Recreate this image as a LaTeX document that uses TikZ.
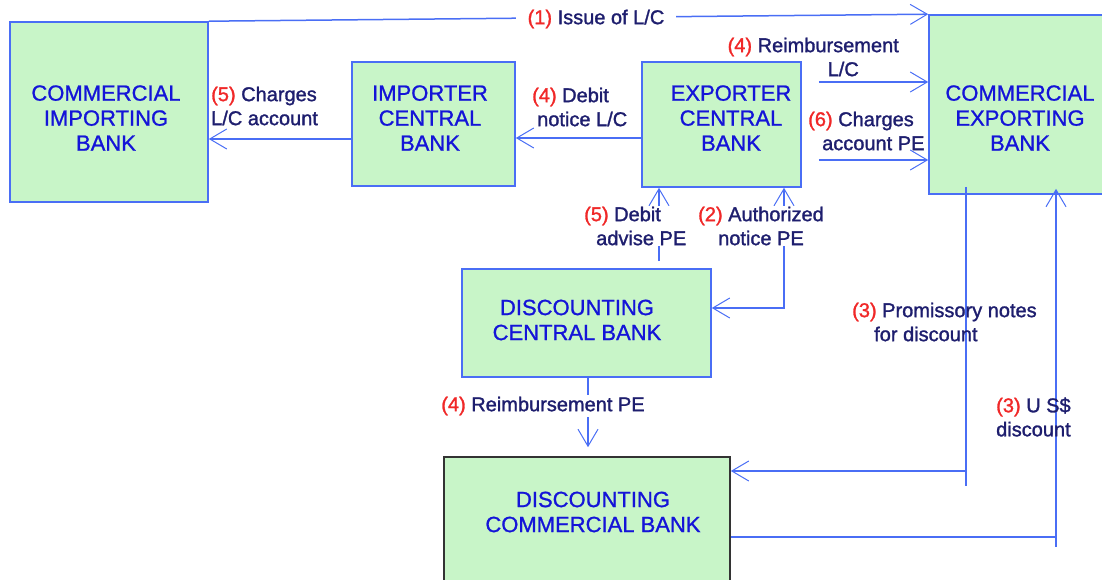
\documentclass[tikz,border=0pt]{standalone}
\usepackage{fontspec}
\setmainfont{Liberation Sans}
\newfontfamily\banksans[FakeBold=1]{Liberation Sans}
\newfontfamily\flowsans[FakeBold=1.4]{Liberation Sans}
\usetikzlibrary{arrows.meta,calc}

\definecolor{boxfill}{HTML}{C8F5C8}
\definecolor{edgeblue}{HTML}{4A6EF5}
\definecolor{txtblue}{HTML}{1414D8}
\definecolor{navy}{HTML}{1E1E6E}
\definecolor{numred}{HTML}{F02828}
\definecolor{darkedge}{HTML}{333333}

\tikzset{
  bank/.style={draw=edgeblue, line width=1.6pt, fill=boxfill, inner sep=0pt},
  banktext/.style={text=txtblue, font=\banksans\fontsize{22}{25}\selectfont, align=center, inner sep=0pt},
  flow/.style={draw=edgeblue, line width=1.5pt},
  tip/.style={-{Straight Barb[length=17pt,width=20pt,line width=1pt]}},
  bothtips/.style={{Straight Barb[length=17pt,width=20pt,line width=1pt]}-{Straight Barb[length=17pt,width=20pt,line width=1pt]}},
  lbl/.style={text=navy, font=\flowsans\fontsize{20}{24}\selectfont, inner sep=1pt},
  gap/.style={fill=white},
}
\newcommand{\stepno}[1]{\textcolor{numred}{#1}}

\begin{document}
\begin{tikzpicture}[x=1pt,y=-1pt]
  \useasboundingbox (0,0) rectangle (1102,580);
  \clip (0,0) rectangle (1102,580);

  % banks
  \node[bank, minimum width=198pt, minimum height=180pt] (cib) at (109,112) {};
  \node[bank, minimum width=163pt, minimum height=124pt] (icb) at (433.5,124) {};
  \node[bank, minimum width=159pt, minimum height=125pt] (ecb) at (721.5,124.5) {};
  \node[bank, minimum width=181pt, minimum height=179pt] (ceb) at (1019.5,104.5) {};
  \node[bank, minimum width=249pt, minimum height=108pt] (dcb) at (586.5,323) {};
  \node[bank, draw=darkedge, minimum width=286pt, minimum height=143pt] (dcom) at (587,528.5) {};

  \node[banktext] (cibt) at (106,118) {COMMERCIAL\\IMPORTING\\BANK};
  \node[banktext] (icbt) at (430,118) {IMPORTER\\CENTRAL\\BANK};
  \node[banktext] (ecbt) at (731,118) {EXPORTER\\CENTRAL\\BANK};
  \node[banktext] (cebt) at (1020,118) {COMMERCIAL\\EXPORTING\\BANK};
  \node[banktext] (dcbt) at (577,320) {DISCOUNTING\\CENTRAL BANK};
  \node[banktext] (dcomt) at (593,512) {DISCOUNTING\\COMMERCIAL BANK};

  % flows between banks
  \draw[flow, tip] (cib.north east) -- (ceb.north west);
  \draw[flow, tip] (icb.west |- 0,139) -- (cib.east |- 0,139);
  \draw[flow, tip] (ecb.west |- 0,138) -- (icb.east |- 0,138);
  \draw[flow, tip] ($(ecb.east |- 0,82)+(17,0)$) -- (ceb.west |- 0,82);
  \draw[flow, tip] ($(ecb.east |- 0,160)+(17,0)$) -- (ceb.west |- 0,160);
  \draw[flow, tip, shorten <=7pt] (dcb.north -| 659,0) -- (ecb.south -| 659,0);
  \draw[flow, bothtips] (ecb.south -| 784,0) |- (dcb.east |- 0,308);
  \draw[flow, tip, shorten >=9pt] (dcb.south -| 588,0) -- (dcom.north -| 588,0);

  \coordinate (pnturn) at (966,471);
  \coordinate (pnend) at (966,486);
  \draw[flow, tip] ($(ceb.south -| 966,0)+(0,-8)$) |- (dcom.east |- pnturn);
  \draw[flow] (pnturn) -- (pnend);

  \coordinate (usturn) at (1056,537);
  \coordinate (usend) at (1056,547);
  \draw[flow, tip, shorten >=-6pt] (dcom.east |- usturn) -| (ceb.south -| usturn);
  \draw[flow] (usturn) -- (usend);

  % flow labels
  \node[lbl, gap, inner xsep=12pt, inner ysep=0pt] (l1) at (596,19) {\stepno{(1)} Issue of L/C};
  \node[lbl, align=left, anchor=west] (l5a) at (210,106) {\stepno{(5)} Charges\\L/C account};
  \node[lbl, align=left, anchor=west] (l4a) at (531,107) {\stepno{(4)} Debit\\\hspace*{5pt}notice L/C};
  \node[lbl, align=right, anchor=east] (l4b) at (900,57) {\stepno{(4)} Reimbursement\\L/C\hspace*{40pt}};
  \node[lbl, align=left, anchor=west] (l6) at (807,131) {\stepno{(6)} Charges\\\hspace*{14pt}account PE};
  \node[lbl, gap, align=left, anchor=west] (l5b) at (583,226) {\stepno{(5)} Debit\\\hspace*{12pt}advise PE};
  \node[lbl, gap, align=center] (l2) at (761,226) {\stepno{(2)} Authorized\\notice PE};
  \node[lbl, gap, inner ysep=2pt] (l4c) at (543,406) {\stepno{(4)} Reimbursement PE};
  \node[lbl, align=left, anchor=west] (l3a) at (851,322) {\stepno{(3)} Promissory notes\\\hspace*{22pt}for discount};
  \node[lbl, align=left, anchor=west] (l3b) at (995,417) {\stepno{(3)} U S\$\\discount};
\end{tikzpicture}
\end{document}
